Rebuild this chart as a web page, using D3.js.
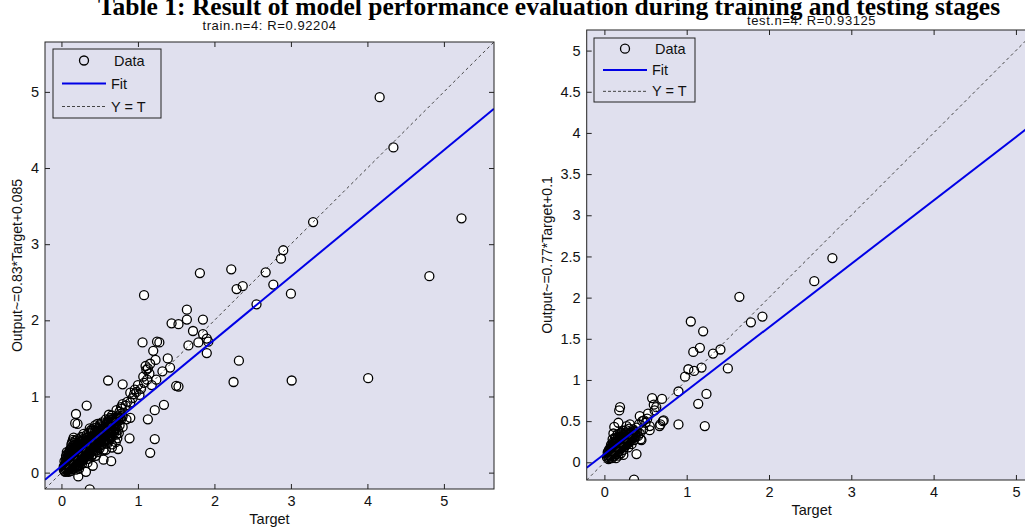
<!DOCTYPE html>
<html><head><meta charset="utf-8">
<script src="https://cdn.jsdelivr.net/npm/d3@7"></script>
<style>body{margin:0;background:#fff;overflow:hidden}</style>
</head><body><svg id="c" width="1025" height="529"></svg>
<script>
const chartTitle = "Table 1: Result of model performance evaluation during training and testing stages";
const panelTitles = ["train.n=4: R=0.92204", "test.n=4: R=0.93125"];
const yLabels = ["Output~=0.83*Target+0.085", "Output~=0.77*Target+0.1"];
const xLabel = "Target";
const legendLabels = ["Data", "Fit", "Y = T"];
const fitSlopes = [0.83, 0.77];
const fitIntercepts = [0.085, 0.1];
const trainTicks = [0, 1, 2, 3, 4, 5];
const testXTicks = [0, 1, 2, 3, 4, 5];
const testYTicks = [0, 0.5, 1, 1.5, 2, 2.5, 3, 3.5, 4, 4.5, 5];
const trainLimits = [-0.215, 5.655];
const testLimits = [-0.215, 5.25];

// [Target, Output] — dense low-value cluster of the training set
const trainCore = [
[0.04,0.02],[0.05,0.05],[0.06,0.08],[0.05,0.11],[0.07,0.03],[0.08,0.06],[0.06,0.14],[0.07,0.18],[0.09,0.10],[0.08,0.13],
[0.10,0.04],[0.10,0.08],[0.09,0.20],[0.10,0.16],[0.11,0.12],[0.06,0.22],[0.08,0.25],[0.09,0.01],[0.12,0.02],[0.04,0.09],
[0.12,0.06],[0.13,0.10],[0.12,0.15],[0.13,0.19],[0.11,0.24],[0.12,0.29],[0.14,0.05],[0.15,0.09],[0.15,0.14],[0.14,0.22],
[0.16,0.18],[0.15,0.27],[0.13,0.33],[0.14,0.40],[0.16,0.36],[0.17,0.12],[0.17,0.07],[0.18,0.16],[0.18,0.22],[0.17,0.30],
[0.19,0.26],[0.18,0.42],[0.19,0.10],[0.20,0.14],[0.20,0.19],[0.20,0.33],[0.16,0.46],[0.19,0.04],
[0.21,0.08],[0.22,0.13],[0.21,0.22],[0.22,0.28],[0.23,0.18],[0.22,0.37],[0.21,0.44],[0.24,0.10],[0.24,0.24],[0.25,0.15],
[0.25,0.31],[0.24,0.40],[0.26,0.20],[0.26,0.27],[0.27,0.12],[0.27,0.35],[0.26,0.47],[0.28,0.23],[0.28,0.30],[0.29,0.17],
[0.28,0.42],[0.30,0.26],[0.30,0.36],[0.29,0.51],[0.30,0.20],[0.23,0.05],
[0.31,0.31],[0.32,0.22],[0.32,0.40],[0.33,0.27],[0.33,0.46],[0.34,0.35],[0.35,0.18],[0.35,0.30],[0.36,0.42],[0.36,0.52],
[0.37,0.25],[0.38,0.37],[0.38,0.32],[0.39,0.47],[0.39,0.21],[0.40,0.29],[0.40,0.41],[0.41,0.55],[0.42,0.34],[0.42,0.44],
[0.34,0.13],[0.37,0.58],[0.41,0.24],
[0.43,0.38],[0.44,0.30],[0.44,0.49],[0.45,0.59],[0.46,0.42],[0.46,0.35],[0.47,0.27],[0.48,0.46],[0.48,0.53],[0.49,0.39],
[0.50,0.32],[0.50,0.62],[0.51,0.44],[0.52,0.50],[0.52,0.36],[0.53,0.57],[0.54,0.41],[0.55,0.47],[0.55,0.30],[0.47,0.64],
[0.53,0.66],[0.45,0.22],
[0.56,0.52],[0.57,0.44],[0.57,0.60],[0.58,0.38],[0.59,0.55],[0.60,0.48],[0.60,0.67],[0.61,0.58],[0.62,0.42],[0.63,0.52],
[0.63,0.63],[0.64,0.72],[0.65,0.56],[0.66,0.47],[0.67,0.61],[0.68,0.67],[0.69,0.52],[0.70,0.58],[0.70,0.71],[0.66,0.37],
[0.62,0.76],[0.58,0.70],
[0.72,0.64],[0.73,0.74],[0.74,0.56],[0.75,0.68],[0.76,0.62],[0.77,0.77],[0.78,0.70],[0.79,0.84],[0.80,0.74],[0.73,0.45],
[0.71,0.40],
[0.03,0.04],[0.05,0.07],[0.07,0.10],[0.04,0.15],[0.06,0.19],[0.08,0.16],[0.09,0.23],[0.07,0.27],[0.10,0.20],[0.05,0.01],
[0.08,0.03],[0.11,0.06],[0.10,0.13],[0.09,0.08],[0.11,0.18],[0.06,0.12],[0.07,0.05],[0.12,0.10],[0.03,0.08],[0.10,0.26],
[0.12,0.13],[0.13,0.16],[0.14,0.12],[0.13,0.22],[0.14,0.27],[0.15,0.20],[0.15,0.31],[0.16,0.24],[0.16,0.14],[0.17,0.17],
[0.17,0.21],[0.18,0.27],[0.18,0.34],[0.19,0.19],[0.19,0.14],[0.20,0.24],[0.20,0.29],[0.19,0.37],[0.17,0.39],[0.15,0.43],
[0.13,0.37],[0.12,0.25],[0.16,0.29],[0.14,0.17],[0.18,0.10],[0.20,0.08],[0.11,0.30],[0.17,0.33],
[0.21,0.16],[0.22,0.20],[0.21,0.26],[0.22,0.32],[0.23,0.24],[0.23,0.29],[0.24,0.19],[0.24,0.35],[0.25,0.21],[0.25,0.27],
[0.25,0.38],[0.26,0.24],[0.26,0.33],[0.27,0.29],[0.27,0.18],[0.27,0.40],[0.28,0.26],[0.28,0.36],[0.29,0.31],[0.29,0.22],
[0.29,0.44],[0.30,0.33],[0.30,0.29],[0.23,0.42],[0.25,0.45],[0.22,0.10],[0.26,0.14],[0.30,0.40],[0.21,0.30],[0.24,0.29],
[0.31,0.27],[0.31,0.36],[0.32,0.30],[0.32,0.45],[0.33,0.33],[0.33,0.38],[0.34,0.29],[0.34,0.42],[0.35,0.35],[0.35,0.25],
[0.35,0.47],[0.36,0.33],[0.36,0.38],[0.37,0.30],[0.37,0.44],[0.38,0.40],[0.38,0.27],[0.39,0.35],[0.39,0.52],[0.40,0.33],
[0.40,0.46],[0.41,0.38],[0.41,0.30],[0.42,0.49],[0.42,0.39],[0.31,0.20],[0.33,0.50],[0.38,0.55],[0.36,0.22],[0.40,0.57],
[0.43,0.43],[0.43,0.33],[0.44,0.40],[0.44,0.54],[0.45,0.45],[0.45,0.36],[0.46,0.48],[0.46,0.55],[0.47,0.37],[0.47,0.43],
[0.48,0.40],[0.48,0.58],[0.49,0.49],[0.49,0.44],[0.50,0.36],[0.50,0.53],[0.51,0.48],[0.51,0.58],[0.52,0.41],[0.52,0.45],
[0.53,0.52],[0.53,0.47],[0.54,0.55],[0.54,0.61],[0.55,0.51],[0.55,0.42],[0.44,0.62],[0.49,0.34],[0.51,0.64],[0.46,0.29],
[0.56,0.47],[0.56,0.58],[0.57,0.54],[0.58,0.49],[0.58,0.63],[0.59,0.60],[0.60,0.53],[0.60,0.44],[0.61,0.63],[0.61,0.51],
[0.62,0.57],[0.62,0.67],[0.63,0.47],[0.63,0.58],[0.64,0.62],[0.64,0.52],[0.65,0.67],[0.65,0.61],[0.66,0.57],[0.66,0.70],
[0.67,0.53],[0.67,0.66],[0.68,0.60],[0.69,0.64],[0.69,0.72],[0.70,0.65],[0.71,0.62],[0.71,0.69],[0.72,0.72],[0.72,0.58],
[0.74,0.71],[0.75,0.73],[0.77,0.72]
];

// [Target, Output] — remaining training points
const trainSpread = [
[0.62,0.70],[0.66,0.75],[0.72,0.82],[0.76,0.80],[0.78,0.86],[0.80,0.90],[0.84,0.88],[0.86,0.93],[0.90,0.92],[0.93,0.98],
[0.95,1.03],[0.98,1.06],[1.04,1.10],[1.08,1.18],[1.12,1.22],[1.15,1.30],[1.10,1.40],[1.13,1.37],[0.75,0.52],[0.68,0.55],
[0.72,0.50],[0.80,0.60],[0.64,0.45],[0.60,0.38],[0.66,0.33],[0.58,0.30],[0.85,0.70],[0.90,0.72],
[4.16,4.93],[4.34,4.27],[3.29,3.29],[5.23,3.34],[2.90,2.92],[2.87,2.81],[2.22,2.67],[1.81,2.62],[2.67,2.63],[4.81,2.58],
[1.08,2.33],[2.29,2.41],[2.37,2.45],[2.77,2.47],[3.00,2.35],[2.55,2.21],[1.64,2.14],[1.44,1.96],[1.53,1.95],[1.64,2.01],
[1.85,2.01],[1.72,1.86],[1.85,1.82],[1.90,1.76],[1.92,1.72],[1.79,1.71],[1.66,1.67],[1.90,1.57],[1.06,1.71],[1.25,1.72],
[1.28,1.71],[1.20,1.60],[1.39,1.50],[1.42,1.38],[1.32,1.33],[1.23,1.48],[1.16,1.43],[1.11,1.35],[1.07,1.26],[1.24,1.22],
[1.18,1.15],[1.50,1.14],[1.53,1.13],[2.32,1.47],[2.25,1.19],[3.01,1.21],[4.01,1.24],[0.61,1.21],[0.80,1.16],[1.00,1.15],
[0.96,1.09],[0.90,1.05],[1.02,1.02],[1.34,0.89],[1.22,0.82],[1.13,0.70],[1.22,0.44],[1.16,0.26],[0.89,0.45],[0.74,0.31],
[0.33,0.88],[0.19,0.77],[0.18,0.65],[0.21,0.64],[0.37,-0.22],[0.22,-0.05],[0.32,0.01],[0.41,0.09],[0.55,0.17],[0.65,0.15]
];

// [Target, Output] — testing set
const testCore = [
[0.03,0.06],[0.05,0.04],[0.06,0.09],[0.04,0.12],[0.07,0.07],[0.08,0.12],[0.06,0.16],[0.09,0.05],[0.10,0.10],[0.09,0.17],
[0.11,0.14],[0.08,0.21],[0.12,0.08],[0.12,0.19],[0.13,0.12],[0.14,0.24],[0.13,0.30],[0.15,0.16],[0.15,0.10],[0.16,0.21],
[0.17,0.27],[0.16,0.34],[0.18,0.14],[0.18,0.19],[0.19,0.24],[0.19,0.31],[0.20,0.11],[0.21,0.18],[0.21,0.36],[0.22,0.22],
[0.22,0.28],[0.23,0.15],[0.24,0.33],[0.24,0.25],[0.25,0.19],[0.26,0.30],[0.26,0.39],[0.27,0.23],[0.28,0.34],[0.28,0.27],
[0.29,0.18],[0.30,0.30],[0.30,0.41],[0.31,0.25],[0.32,0.36],[0.33,0.29],[0.34,0.33],[0.35,0.40],[0.36,0.27],[0.37,0.35],
[0.38,0.31],[0.39,0.42],[0.40,0.37],[0.14,0.05],[0.10,0.28],[0.17,0.08],[0.23,0.09],[0.11,0.35],[0.27,0.44],[0.33,0.22],
[0.04,0.08],[0.05,0.10],[0.06,0.13],[0.07,0.15],[0.07,0.11],[0.08,0.09],[0.08,0.16],[0.09,0.13],[0.09,0.20],[0.10,0.15],
[0.10,0.19],[0.11,0.11],[0.11,0.22],[0.12,0.16],[0.12,0.23],[0.13,0.18],[0.13,0.14],[0.13,0.25],[0.14,0.20],[0.14,0.15],
[0.14,0.29],[0.15,0.23],[0.15,0.19],[0.16,0.26],[0.16,0.17],[0.17,0.22],[0.17,0.31],[0.18,0.24],[0.18,0.29],[0.19,0.21],
[0.19,0.27],[0.20,0.25],[0.20,0.31],[0.20,0.17],[0.21,0.27],[0.21,0.23],[0.22,0.31],[0.22,0.19],[0.23,0.26],[0.23,0.34],
[0.24,0.21],[0.24,0.29],[0.25,0.27],[0.25,0.33],[0.26,0.25],[0.26,0.21],[0.27,0.31],[0.27,0.27],[0.28,0.30],[0.28,0.22],
[0.29,0.33],[0.29,0.26],[0.30,0.35],[0.31,0.29],[0.31,0.33],[0.32,0.27],[0.33,0.36],[0.34,0.30],[0.35,0.33],[0.36,0.38],
[0.37,0.32],[0.38,0.37],[0.06,0.05],[0.05,0.14],[0.11,0.07],[0.16,0.12],[0.10,0.24],[0.19,0.35],[0.23,0.38],[0.27,0.36]
];

const testSpread = [
[0.42,0.46],[0.47,0.40],[0.50,0.48],[0.52,0.53],[0.46,0.50],[0.41,0.32],
[2.77,2.48],[2.55,2.20],[1.64,2.01],[1.78,1.70],[1.92,1.77],[1.05,1.71],[1.20,1.59],[1.08,1.34],[1.16,1.39],[1.32,1.32],
[1.41,1.37],[1.18,1.15],[1.02,1.13],[1.09,1.11],[0.98,1.04],[1.50,1.14],[0.90,0.86],[1.24,0.83],[1.14,0.71],[1.22,0.44],
[0.90,0.46],[0.58,0.78],[0.70,0.77],[0.60,0.70],[0.63,0.67],[0.71,0.50],[0.67,0.44],[0.55,0.39],[0.19,0.67],[0.18,0.63],
[0.39,0.10],[0.36,-0.21],[0.44,0.28],[0.43,0.56],[0.31,0.46],[0.17,0.48],[0.12,0.43],[0.53,0.59],[0.48,0.51],[0.45,0.27],
[0.43,0.35],[0.55,0.44],[0.68,0.46],[0.72,0.51],[0.61,0.63]
];

const svg = d3.select("#c");
const BG = "#e0e0ee";
const FONT = "Liberation Sans, Arial, sans-serif";

svg.append("text").attr("x", 549).attr("y", 15)
  .attr("text-anchor", "middle").attr("font-family", "Liberation Serif, Times New Roman, serif")
  .attr("font-weight", "bold").attr("font-size", 25.5).attr("fill", "#000").text(chartTitle);

const panels = [
  {box:{x0:45, x1:494, y0:42, y1:489}, lim:trainLimits, xt:trainTicks, yt:trainTicks, data:trainCore.concat(trainSpread),
   title:panelTitles[0], titleY:30, ylab:yLabels[0], ylabX:17, m:fitSlopes[0], b:fitIntercepts[0],
   leg:{x:53, y:49, w:108, h:69}},
  {box:{x0:586.7, x1:1036.5, y0:30, y1:480}, lim:testLimits, xt:testXTicks, yt:testYTicks, data:testCore.concat(testSpread),
   title:panelTitles[1], titleY:25, ylab:yLabels[1], ylabX:547, m:fitSlopes[1], b:fitIntercepts[1],
   leg:{x:594, y:38, w:101, h:64}}
];

panels.forEach((p, i) => {
  const x = d3.scaleLinear().domain(p.lim).range([p.box.x0, p.box.x1]);
  const y = d3.scaleLinear().domain(p.lim).range([p.box.y1, p.box.y0]);
  const g = svg.append("g");
  const W = p.box.x1 - p.box.x0, H = p.box.y1 - p.box.y0;
  g.append("rect").attr("x", p.box.x0).attr("y", p.box.y0).attr("width", W).attr("height", H).attr("fill", BG);

  const cid = "clip" + i;
  svg.append("defs").append("clipPath").attr("id", cid).append("rect")
    .attr("x", p.box.x0).attr("y", p.box.y0).attr("width", W).attr("height", H);
  const plot = g.append("g").attr("clip-path", `url(#${cid})`);

  // marker faces first, then all outlines on top
  plot.append("g").selectAll("circle").data(p.data).join("circle")
    .attr("cx", d => x(d[0])).attr("cy", d => y(d[1])).attr("r", 4.5).attr("fill", "#fff");
  plot.append("g").selectAll("circle").data(p.data).join("circle")
    .attr("cx", d => x(d[0])).attr("cy", d => y(d[1])).attr("r", 4.5)
    .attr("fill", "none").attr("stroke", "#000").attr("stroke-width", 1.3);

  const lo = p.lim[0], hi = p.lim[1];
  plot.append("line").attr("x1", x(lo)).attr("y1", y(p.m*lo + p.b)).attr("x2", x(hi)).attr("y2", y(p.m*hi + p.b))
    .attr("stroke", "#0000e6").attr("stroke-width", 2);
  plot.append("line").attr("x1", x(lo)).attr("y1", y(lo)).attr("x2", x(hi)).attr("y2", y(hi))
    .attr("stroke", "#444").attr("stroke-width", 1).attr("stroke-dasharray", "3,3");

  const tl = 5;
  const ax = g.append("g").attr("transform", `translate(0,${p.box.y1})`)
    .call(d3.axisBottom(x).tickValues(p.xt).tickSize(-tl).tickPadding(7).tickFormat(d3.format("~g")));
  const axT = g.append("g").attr("transform", `translate(0,${p.box.y0})`)
    .call(d3.axisTop(x).tickValues(p.xt).tickSize(-tl).tickFormat(""));
  const ay = g.append("g").attr("transform", `translate(${p.box.x0},0)`)
    .call(d3.axisLeft(y).tickValues(p.yt).tickSize(-tl).tickPadding(6).tickFormat(d3.format("~g")));
  const ayR = g.append("g").attr("transform", `translate(${p.box.x1},0)`)
    .call(d3.axisRight(y).tickValues(p.yt).tickSize(-tl).tickFormat(""));
  [ax, axT, ay, ayR].forEach(a => {
    a.select(".domain").remove();
    a.selectAll(".tick line").attr("stroke", "#222");
    a.selectAll("text").attr("font-family", FONT).attr("font-size", 14.5).attr("fill", "#111");
  });
  g.append("rect").attr("x", p.box.x0).attr("y", p.box.y0).attr("width", W).attr("height", H)
    .attr("fill", "none").attr("stroke", "#222").attr("stroke-width", 1);

  const cx = (p.box.x0 + p.box.x1) / 2, cy = (p.box.y0 + p.box.y1) / 2;
  svg.append("text").attr("x", cx).attr("y", p.titleY).attr("text-anchor", "middle")
    .attr("font-family", FONT).attr("font-size", 13).attr("letter-spacing", 0.6).attr("fill", "#111").text(p.title);
  svg.append("text").attr("x", cx).attr("y", p.box.y1 + 35).attr("text-anchor", "middle")
    .attr("font-family", FONT).attr("font-size", 14.5).attr("fill", "#111").text(xLabel);
  svg.append("text").attr("transform", `translate(${p.ylabX},${cy}) rotate(-90)`).attr("text-anchor", "middle")
    .attr("dominant-baseline", "central")
    .attr("font-family", FONT).attr("font-size", 14).attr("fill", "#111").text(p.ylab);

  const L = p.leg;
  const lg = g.append("g");
  lg.append("rect").attr("x", L.x).attr("y", L.y).attr("width", L.w).attr("height", L.h)
    .attr("fill", BG).attr("stroke", "#222").attr("stroke-width", 1);
  const rowH = L.h / 3;
  const ly = k => L.y + rowH * (k + 0.5);
  const lx0 = L.x + 9, lx1 = L.x + 53;
  lg.append("circle").attr("cx", (lx0 + lx1) / 2).attr("cy", ly(0)).attr("r", 4.5)
    .attr("fill", "none").attr("stroke", "#000").attr("stroke-width", 1.3);
  lg.append("line").attr("x1", lx0).attr("x2", lx1).attr("y1", ly(1)).attr("y2", ly(1))
    .attr("stroke", "#0000e6").attr("stroke-width", 2);
  lg.append("line").attr("x1", lx0).attr("x2", lx1).attr("y1", ly(2)).attr("y2", ly(2))
    .attr("stroke", "#444").attr("stroke-width", 1).attr("stroke-dasharray", "3,2");
  legendLabels.forEach((t, k) => {
    lg.append("text").attr("x", k === 0 ? lx1 + 8 : lx1 + 5).attr("y", ly(k)).attr("dominant-baseline", "central")
      .attr("font-family", FONT).attr("font-size", 14.5).attr("fill", "#111").text(t);
  });
});
</script></body></html>
